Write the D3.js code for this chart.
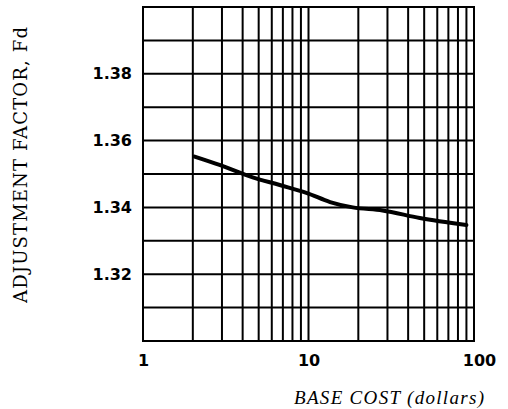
<!DOCTYPE html>
<html>
<head>
<meta charset="utf-8">
<script src="https://cdn.jsdelivr.net/npm/d3@7"></script>
<style>
  body { margin: 0; background: #fff; }
  svg { display: block; }
</style>
</head>
<body>
<div id="chart"></div>
<script>
// base cost (dollars) vs adjustment factor Fd
var baseCost = [2.05, 2.9, 4.6, 6.7, 9.8, 13.5, 18.5, 28, 47, 90];
var factor = [1.3552, 1.3527, 1.3490, 1.3467, 1.3443, 1.3416, 1.3400, 1.3391, 1.3368, 1.3347];

var xTicks = [1, 10, 100];
var yTicks = [1.32, 1.34, 1.36, 1.38];

var width = 508, height = 409;
var margin = {top: 7, right: 34, bottom: 68, left: 143};

var svg = d3.select('#chart').append('svg')
    .attr('width', width)
    .attr('height', height);

var x = d3.scaleLog()
    .domain([1, 100])
    .range([margin.left, width - margin.right]);

var y = d3.scaleLinear()
    .domain([1.30, 1.40])
    .range([height - margin.bottom, margin.top]);

// grid: log minors on x, every 0.01 on y
var xGrid = [];
for (var d = 1; d < 100; d *= 10) {
    for (var k = 1; k < 10; k++) xGrid.push(d * k);
}
xGrid.push(100);
var yGrid = d3.range(0, 11).map(function (i) { return 1.30 + i * 0.01; });

var grid = svg.append('g')
    .attr('stroke', '#000')
    .attr('stroke-width', 2);

grid.selectAll('line.v').data(xGrid)
    .enter().append('line')
    .attr('class', 'v')
    .attr('x1', function (d) { return x(d); })
    .attr('x2', function (d) { return x(d); })
    .attr('y1', y(1.30) + 1)
    .attr('y2', y(1.40) - 1);

grid.selectAll('line.h').data(yGrid)
    .enter().append('line')
    .attr('class', 'h')
    .attr('x1', x(1) - 1)
    .attr('x2', x(100) + 1)
    .attr('y1', function (d) { return y(d); })
    .attr('y2', function (d) { return y(d); });

// tick labels
var xAxis = svg.append('g')
    .attr('transform', 'translate(0,' + (height - margin.bottom) + ')')
    .call(d3.axisBottom(x).tickValues(xTicks).tickFormat(d3.format('d')).tickSize(0).tickPadding(14));

var yAxis = svg.append('g')
    .attr('transform', 'translate(' + margin.left + ',0)')
    .call(d3.axisLeft(y).tickValues(yTicks).tickFormat(d3.format('.2f')).tickSize(0).tickPadding(11));

[xAxis, yAxis].forEach(function (a) {
    a.select('.domain').remove();
    a.selectAll('text')
        .attr('font-family', '"DejaVu Sans", sans-serif')
        .attr('font-size', 16)
        .attr('font-weight', 'bold')
        .attr('fill', '#000');
});
xAxis.selectAll('text').filter(function (d) { return d === 100; }).attr('dx', 5);

// the curve
var line = d3.line()
    .x(function (d, i) { return x(baseCost[i]); })
    .y(function (d) { return y(d); })
    .curve(d3.curveMonotoneX);

svg.append('path')
    .datum(factor)
    .attr('d', line)
    .attr('fill', 'none')
    .attr('stroke', '#000')
    .attr('stroke-width', 4)
    .attr('stroke-linecap', 'round');

// axis titles
svg.append('text')
    .attr('x', 294)
    .attr('y', 404)
    .attr('font-family', '"Liberation Serif", serif')
    .attr('font-style', 'italic')
    .attr('font-size', 19)
    .attr('fill', '#000')
    .attr('textLength', 190)
    .text('BASE COST (dollars)');

svg.append('text')
    .attr('transform', 'translate(27,165) rotate(-90)')
    .attr('text-anchor', 'middle')
    .attr('font-family', '"DejaVu Serif", serif')
    .attr('font-size', 18)
    .attr('fill', '#000')
    .attr('textLength', 276)
    .text('ADJUSTMENT FACTOR, Fd');
</script>
</body>
</html>
